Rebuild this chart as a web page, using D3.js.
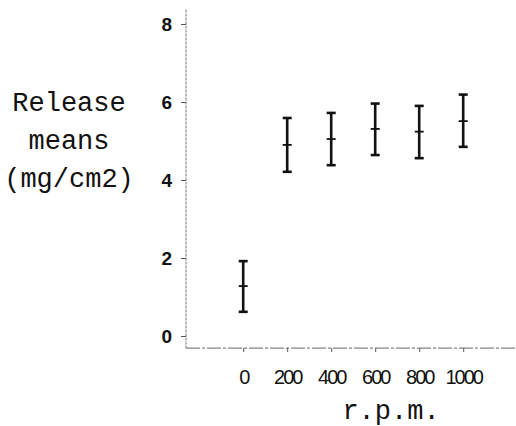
<!DOCTYPE html>
<html>
<head>
<meta charset="utf-8">
<script src="https://cdn.jsdelivr.net/npm/d3@7"></script>
<style>
  body { margin: 0; background: #fff; }
  svg { display: block; }
  .ytick text { font-family: "Liberation Sans", Arial, sans-serif; font-weight: bold; font-size: 19px; }
  .xtick text { font-family: "Liberation Sans", Arial, sans-serif; font-size: 20px; letter-spacing: -2px; }
  .title { font-family: "Liberation Mono", "Courier New", monospace; font-size: 27px; fill: #111; }
</style>
</head>
<body>
<svg width="516" height="426"></svg>
<script>
// values
const rpm = [0, 200, 400, 600, 800, 1000];
const means = [1.28, 4.90, 5.05, 5.31, 5.24, 5.51];
const lower = [0.62, 4.21, 4.38, 4.64, 4.56, 4.85];
const upper = [1.92, 5.59, 5.72, 5.96, 5.90, 6.19];
const y_ticks = [0, 2, 4, 6, 8];
const x_ticks = [0, 200, 400, 600, 800, 1000];

const svg = d3.select('svg');

const x = d3.scaleLinear().domain([-260, 1240]).range([186, 516]);
const y = d3.scaleLinear().domain([0, 8]).range([336, 24]);

// axis lines (dotted, grey as in the scan)
svg.append('line')
    .attr('x1', x(-260)).attr('x2', x(-260))
    .attr('y1', y(8.37)).attr('y2', y(-0.31))
    .attr('stroke', '#777').attr('stroke-width', 1)
    .attr('stroke-dasharray', '3,1');

svg.append('line')
    .attr('x1', x(-260)).attr('x2', x(1240))
    .attr('y1', y(-0.31)).attr('y2', y(-0.31))
    .attr('stroke', '#666').attr('stroke-width', 1)
    .attr('stroke-dasharray', '14,2,3,2');

const yAxis = svg.append('g')
    .attr('class', 'ytick')
    .attr('transform', 'translate(' + x(-260) + ',0)')
    .call(d3.axisLeft(y).tickValues(y_ticks).tickSize(5).tickPadding(9));
yAxis.select('.domain').remove();
yAxis.selectAll('line').attr('stroke', '#555');
yAxis.selectAll('text').attr('fill', '#111');

const xAxis = svg.append('g')
    .attr('class', 'xtick')
    .attr('transform', 'translate(0,' + y(-0.31) + ')')
    .call(d3.axisBottom(x).tickValues(x_ticks).tickFormat(d3.format('d')).tickSize(4).tickPadding(18));
xAxis.select('.domain').remove();
xAxis.selectAll('line').attr('stroke', '#555');
xAxis.selectAll('text').attr('fill', '#111');

// error bars
const bars = svg.append('g').selectAll('g')
    .data(rpm.map(function (r, i) {
        return { rpm: r, mean: means[i], lo: lower[i], hi: upper[i] };
    }))
    .enter().append('g')
    .attr('stroke', '#111');

bars.append('line')
    .attr('x1', function (d) { return x(d.rpm); })
    .attr('x2', function (d) { return x(d.rpm); })
    .attr('y1', function (d) { return y(d.lo); })
    .attr('y2', function (d) { return y(d.hi); })
    .attr('stroke-width', 2.6);

[['lo', 2.6], ['hi', 2.6], ['mean', 1.8]].forEach(function (k) {
    bars.append('line')
        .attr('x1', function (d) { return x(d.rpm) - 4.5; })
        .attr('x2', function (d) { return x(d.rpm) + 4.5; })
        .attr('y1', function (d) { return y(d[k[0]]); })
        .attr('y2', function (d) { return y(d[k[0]]); })
        .attr('stroke-width', k[1]);
});

// titles
const ytitle = ['Release', 'means', '(mg/cm2)'];
svg.append('text')
    .attr('class', 'title')
    .attr('text-anchor', 'middle')
    .selectAll('tspan')
    .data(ytitle)
    .enter().append('tspan')
    .attr('x', 69)
    .attr('y', function (d, i) { return 111 + i * 38; })
    .text(function (d) { return d; });

svg.append('text')
    .attr('class', 'title')
    .attr('text-anchor', 'middle')
    .attr('x', 391)
    .attr('y', 419)
    .text('r.p.m.');
</script>
</body>
</html>
